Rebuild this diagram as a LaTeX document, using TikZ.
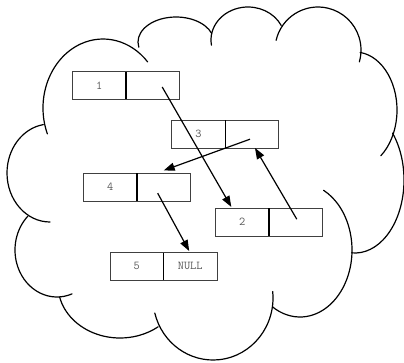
\documentclass[tikz,border=0pt]{standalone}
\usepackage{tikz}
\usetikzlibrary{positioning,calc,arrows.meta}

\tikzset{
  cloudline/.style={line width=1.2pt, line cap=round},
  cell/.style={draw=black!75, line width=0.8pt, minimum width=53.5pt, minimum height=27.5pt,
    inner sep=0pt, outer sep=0pt, font=\ttfamily\fontsize{12}{14}\selectfont, text=black!65},
  link/.style={line width=1.2pt, -{Triangle[length=11pt,width=8pt]}},
  divider/.style={line width=1.2pt}
}

\begin{document}
\begin{tikzpicture}[x=1pt, y=-1pt]
		\useasboundingbox (0,0) rectangle (404,362);
		\foreach \cx/\cy/\rx/\ry/\a/\b in {103/108/60/69/158/318, 176/42/38/25/168/340,
			248/40/37/33/171/334, 318/50/43/43/193/376, 355/110/42/58/277/412,
			355/180/49/73/-40/94, 300/250/52/67/-63/122, 213/298/60/62/-6/166,
			120/285/62/53/52/167, 57/250/42/47/69/226, 50/173/43/49/90/261}
			\draw[cloudline] ({\cx+\rx*cos(\a)},{\cy+\ry*sin(\a)})
				arc[start angle=\a, end angle=\b, x radius=\rx, y radius=\ry];
		\node[cell] (v1) at (99.2,85.5) {1};
		\node[cell, right=0pt of v1] (p1) {};
		\node[cell] (v3) at (198.5,134.2) {3};
		\node[cell, right=0pt of v3] (p3) {};
		\node[cell] (v4) at (110.2,187.2) {4};
		\node[cell, right=0pt of v4] (p4) {};
		\node[cell] (v2) at (242.3,222.2) {2};
		\node[cell, right=0pt of v2] (p2) {};
		\node[cell] (v5) at (136.7,266.3) {5};
		\node[cell, right=0pt of v5] (p5) {NULL};
		\draw[divider] (v1.north east) -- (v1.south east);
		\draw[divider] (v3.north east) -- (v3.south east);
		\draw[divider] (v4.north east) -- (v4.south east);
		\draw[divider] (v2.north east) -- (v2.south east);
		\draw[divider] (v5.north east) -- (v5.south east);
		\draw[link] ($(p1.center)+(9.5,1.5)$) -- ($(v2.north)+(-11,-1.5)$);
		\draw[link] ($(p3.center)+(-2,5)$) -- ($(p4.north)+(0,-3)$);
		\draw[link] ($(p2.center)+(1,-3)$) -- ($(p3.south)+(3,0)$);
		\draw[link] ($(p4.center)+(-6,6)$) -- ($(p5.north)+(-1,-1.5)$);
\end{tikzpicture}
\end{document}
